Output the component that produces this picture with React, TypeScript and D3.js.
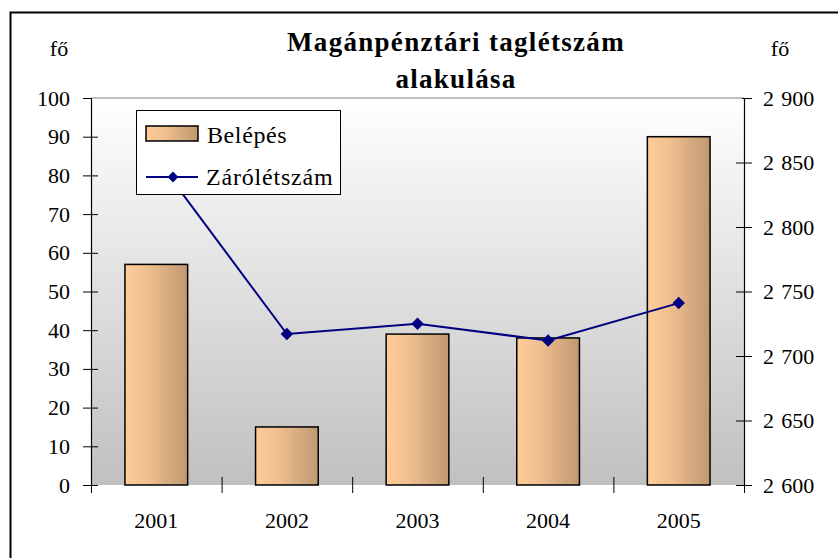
import React, { useEffect, useRef } from 'react';
import * as d3 from 'd3';

const years = ['2001', '2002', '2003', '2004', '2005'];
const belepes = [57, 15, 39, 38, 90];
const zarolétszam = [2853, 2717, 2725, 2712, 2741];
const leftTicks = [0, 10, 20, 30, 40, 50, 60, 70, 80, 90, 100];
const rightTicks = [2600, 2650, 2700, 2750, 2800, 2850, 2900];

const W = 838;
const H = 558;
const plot = { left: 91, right: 744, top: 98, bottom: 485 };
const font = 'Liberation Serif, Tinos, Times New Roman, serif';

const huFormat = d3.formatLocale({ thousands: '\u2004', grouping: [3], decimal: ',', currency: ['', ''] }).format(',');

function App() {
    const ref = useRef(null);

    useEffect(() => {
        const svg = d3.select(ref.current);
        const g = svg.select('g.axes');
        g.selectAll('*').remove();

        const y = d3.scaleLinear().domain([0, 100]).range([plot.bottom, plot.top]);
        const y2 = d3.scaleLinear().domain([2600, 2900]).range([plot.bottom, plot.top]);

        // left axis
        const la = g.append('g')
            .attr('transform', `translate(${plot.left},0)`)
            .call(d3.axisLeft(y).tickValues(leftTicks).tickSizeOuter(0).tickSize(8).tickPadding(13));
        la.selectAll('.tick line').attr('x1', -8).attr('x2', 7);
        la.selectAll('.tick line').filter((d) => d === 100).attr('x2', 0);

        // right axis
        const ra = g.append('g')
            .attr('transform', `translate(${plot.right},0)`)
            .call(d3.axisRight(y2).tickValues(rightTicks).tickFormat(huFormat).tickSizeOuter(0).tickSize(8).tickPadding(11));
        ra.selectAll('.tick line').attr('x1', -8).attr('x2', 8);
        ra.selectAll('.tick line').filter((d) => d === 2900).attr('x1', -2);

        // bottom axis: ticks between categories
        const xb = d3.scaleLinear().domain([0, years.length]).range([plot.left, plot.right]);
        const ba = g.append('g')
            .attr('transform', `translate(0,${plot.bottom})`)
            .call(d3.axisBottom(xb).tickValues(d3.range(0, years.length + 1)).tickFormat(() => '').tickSizeOuter(0).tickSize(8));
        ba.selectAll('.tick line').attr('y1', -8).attr('y2', 8);
        ba.select('.domain').remove();

        g.selectAll('g').attr('font-family', null).attr('font-size', null);
        g.selectAll('.domain').attr('stroke', '#000').attr('stroke-width', 1.2);
        g.selectAll('.tick line').attr('stroke', '#000').attr('stroke-width', 1);
        g.selectAll('.tick text')
            .style('font-family', font)
            .style('font-size', '22px')
            .attr('fill', '#000');
    }, []);

    const x = d3.scaleBand().domain(years).range([plot.left, plot.right]).padding(0);
    const y = d3.scaleLinear().domain([0, 100]).range([plot.bottom, plot.top]);
    const y2 = d3.scaleLinear().domain([2600, 2900]).range([plot.bottom, plot.top]);
    const barW = x.bandwidth() * 0.48;
    const cx = (d) => x(d) + x.bandwidth() / 2;

    const line = d3.line()
        .x((d, i) => cx(years[i]))
        .y((d) => y2(d));

    const diamond = d3.symbol().type(d3.symbolDiamond2).size(100)();
    const legendDiamond = d3.symbol().type(d3.symbolDiamond2).size(75)();
    const txt = { fontFamily: font };

    return (
        <svg ref={ref} width={W} height={H} style={{ position: 'fixed', top: 0, left: 0, background: '#fff', fontFamily: font }}>
            <defs>
                <linearGradient id="bg" x1="0" y1="0" x2="0" y2="1">
                    <stop offset="0" stopColor="#ffffff" />
                    <stop offset="1" stopColor="#c0c0c0" />
                </linearGradient>
                <linearGradient id="bar" x1="0" y1="0" x2="1" y2="0">
                    <stop offset="0" stopColor="#ffcc99" />
                    <stop offset="0.35" stopColor="#f0c090" />
                    <stop offset="1" stopColor="#c09870" />
                </linearGradient>
            </defs>
            <rect x={10.5} y={12.5} width={W} height={H} fill="none" stroke="#000" strokeWidth={2} />
            <rect x={plot.left} y={plot.top} width={plot.right - plot.left} height={plot.bottom - plot.top} fill="url(#bg)" />
            <line x1={plot.left} x2={plot.right} y1={plot.top} y2={plot.top} stroke="#808080" strokeWidth={1} />

            {belepes.map((v, i) => (
                <rect key={years[i]}
                    x={cx(years[i]) - barW / 2}
                    y={y(v)}
                    width={barW}
                    height={y(0) - y(v)}
                    fill="url(#bar)"
                    stroke="#000"
                    strokeWidth={1.5} />
            ))}

            <path d={line(zarolétszam)} fill="none" stroke="#000080" strokeWidth={2} />
            {zarolétszam.map((v, i) => (
                <path key={i} d={diamond} transform={`translate(${cx(years[i])},${y2(v)})`} fill="#000080" />
            ))}

            <g className="axes" />

            {/* legend */}
            <g>
                <rect x={136.5} y={110.5} width={204} height={84} fill="#fff" stroke="#000" strokeWidth={1} />
                <rect x={146} y={126} width={52} height={15} fill="url(#bar)" stroke="#000" strokeWidth={1.5} />
                <text x={207} y={142.5} style={txt} fontSize={24} letterSpacing={0.6}>Belépés</text>
                <line x1={146} x2={198} y1={177} y2={177} stroke="#000080" strokeWidth={2} />
                <path d={legendDiamond} transform="translate(173,177)" fill="#000080" />
                <text x={206} y={184.5} style={txt} fontSize={24} letterSpacing={0.8}>Zárólétszám</text>
            </g>

            {years.map((yr) => (
                <text key={yr} x={cx(yr)} y={528} textAnchor="middle" style={txt} fontSize={22}>{yr}</text>
            ))}

            <text x={59} y={56} textAnchor="middle" style={txt} fontSize={22}>fő</text>
            <text x={780} y={56} textAnchor="middle" style={txt} fontSize={22}>fő</text>

            <text x={456} y={51} textAnchor="middle" style={txt} fontSize={27} fontWeight="bold" letterSpacing={1.3}>Magánpénztári taglétszám</text>
            <text x={456} y={88} textAnchor="middle" style={txt} fontSize={27} fontWeight="bold" letterSpacing={1.3}>alakulása</text>
        </svg>
    );
}

export default App;
